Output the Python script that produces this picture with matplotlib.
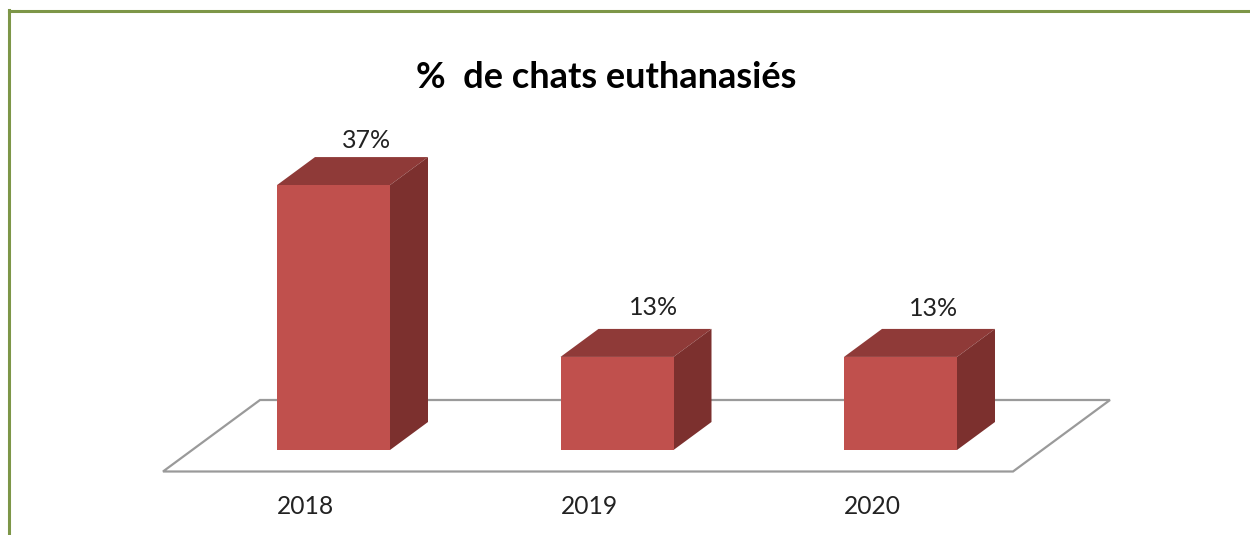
# coding=utf-8
import numpy as np
import matplotlib
matplotlib.use('Agg')
import matplotlib.pyplot as plt
from matplotlib.patches import Polygon

plt.rcParams['font.family'] = ['Lato', 'DejaVu Sans']

annees = ['2018', '2019', '2020']
valeurs = [37, 13, 13]
etiquettes = ['37%', '13%', '13%']
titre = '%  de chats euthanasiés'

W, H = 1250, 535
fig = plt.figure(figsize=(W / 100, H / 100), dpi=100)
ax = fig.add_axes([0, 0, 1, 1])

# echelles: 283.5 px par categorie, 7.16 px par point de %
px_x = 283.5
px_y = 7.16
ax.set_xlim(-333.5 / px_x, (W - 333.5) / px_x)
ax.set_ylim(-(H - 450) / px_y, 450 / px_y)
ax.axis('off')

index = np.arange(len(annees))
bar_width = 113 / px_x
dx = 38 / px_x   # profondeur 3D
dy = 28 / px_y

# plancher
gris = '#9a9a9a'
y_av, y_ar = -21.5 / px_y, 50 / px_y
x_g, x_d = -170.5 / px_x, 679.5 / px_x
ax.add_patch(Polygon([(x_g, y_av), (x_d, y_av), (x_d + 97 / px_x, y_ar), (x_g + 97 / px_x, y_ar)],
                     closed=True, facecolor='white', edgecolor=gris, linewidth=1.6, zorder=1))

rects = ax.bar(index, valeurs, bar_width, color='#C0504D', linewidth=0, zorder=3)

for i, v in zip(index, valeurs):
    g, d = i - bar_width / 2, i + bar_width / 2
    ax.add_patch(Polygon([(g, v), (d, v), (d + dx, v + dy), (g + dx, v + dy)],
                         closed=True, facecolor='#8F3A38', linewidth=0, zorder=2))
    ax.add_patch(Polygon([(d, 0), (d + dx, dy), (d + dx, v + dy), (d, v)],
                         closed=True, facecolor='#7C302E', linewidth=0, zorder=2))

# petits decalages des etiquettes, en px
decal_x = [33, 37, 33]
decal_y = [17, 21, 20]
for i, v, t, ox, oy in zip(index, valeurs, etiquettes, decal_x, decal_y):
    ax.text(i + ox / px_x, v + dy + oy / px_y, t, ha='center', va='center', fontsize=18, color='#222222', zorder=4)

for i, a in zip(index, annees):
    ax.text(i - 28 / px_x, -56.5 / px_y, a, ha='center', va='center', fontsize=17.7, color='#222222')

fig.text(606 / W, 1 - 78 / H, titre, ha='center', va='center', fontsize=26, fontweight='bold', color='black')

# cadre vert (haut et gauche seulement)
vert = '#7D9648'
fig.add_artist(plt.Line2D([8.5 / W, 8.5 / W], [0, 1 - 10 / H], color=vert, linewidth=2.2, solid_capstyle='projecting'))
fig.add_artist(plt.Line2D([8.5 / W, 1], [1 - 10.5 / H, 1 - 10.5 / H], color=vert, linewidth=2.2))

plt.savefig('out.png', dpi=100, facecolor='white')
